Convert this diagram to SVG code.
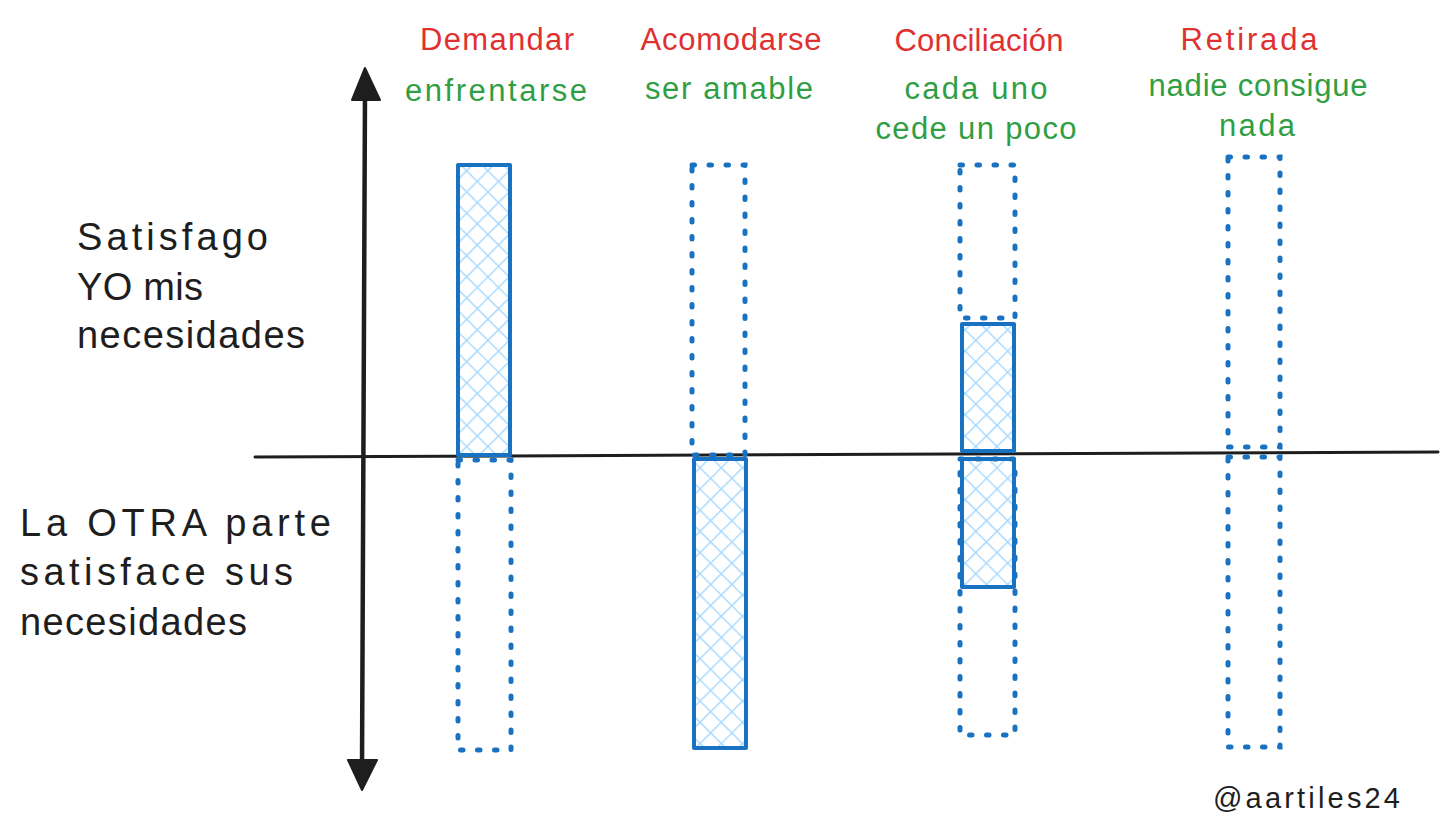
<svg xmlns="http://www.w3.org/2000/svg" width="1456" height="839" viewBox="0 0 1456 839">
  <defs>
    <pattern id="hatch" width="15" height="15" patternUnits="userSpaceOnUse" patternTransform="rotate(45)">
      <line x1="0" y1="0" x2="0" y2="15" stroke="#a5d8ff" stroke-width="2.8"/>
      <line x1="0" y1="0" x2="15" y2="0" stroke="#a5d8ff" stroke-width="2.8"/>
    </pattern>
    <style>
      .solid { fill: url(#hatch); stroke: #1971c2; stroke-width: 4; stroke-linejoin: round; }
      .dot { fill: none; stroke: #1971c2; stroke-width: 5; stroke-dasharray: 2.5 14.5; stroke-linecap: round; }
      .axis { stroke: #1e1e1e; fill: none; stroke-linecap: round; }
      .red { fill: #e03131; font-family: "Liberation Sans", "DejaVu Sans", sans-serif; font-size: 31px; text-anchor: middle; }
      .green { fill: #2f9e44; font-family: "Liberation Sans", "DejaVu Sans", sans-serif; font-size: 31px; text-anchor: middle; }
      .side { fill: #1e1e1e; font-family: "Liberation Sans", "DejaVu Sans", sans-serif; font-size: 38px; }
      .sig { fill: #1e1e1e; font-family: "Liberation Sans", "DejaVu Sans", sans-serif; font-size: 29px; }
    </style>
  </defs>
  <rect width="1456" height="839" fill="#ffffff"/>

  <g id="connectors">
    <line class="axis" x1="255" y1="457" x2="1438" y2="452" stroke-width="3"/>
    <line class="axis" x1="365" y1="92" x2="362" y2="768" stroke-width="4.5"/>
    <polygon points="365,68 352,100 380,100" fill="#1e1e1e" stroke="#1e1e1e" stroke-width="2" stroke-linejoin="round"/>
    <polygon points="362,790 348,760 377,760" fill="#1e1e1e" stroke="#1e1e1e" stroke-width="2" stroke-linejoin="round"/>
  </g>

  <g id="label-yo">
    <text class="side" x="77" y="250" textLength="191">Satisfago</text>
    <text class="side" x="77" y="300" textLength="126">YO mis</text>
    <text class="side" x="77" y="348" textLength="228">necesidades</text>
  </g>
  <g id="label-otra">
    <text class="side" x="20" y="536" textLength="311">La OTRA parte</text>
    <text class="side" x="20" y="585" textLength="273">satisface sus</text>
    <text class="side" x="20" y="635" textLength="227">necesidades</text>
  </g>

  <g id="demandar">
    <text class="red" x="497" y="50" textLength="154">Demandar</text>
    <text class="green" x="496" y="101" textLength="182">enfrentarse</text>
    <rect class="dot" x="458" y="460" width="53" height="290"/>
    <rect class="solid" x="458" y="165" width="52" height="290"/>
  </g>

  <g id="acomodarse">
    <text class="red" x="731" y="50" textLength="181">Acomodarse</text>
    <text class="green" x="729" y="99" textLength="168">ser amable</text>
    <rect class="dot" x="692" y="165" width="53" height="290"/>
    <rect class="solid" x="694" y="459" width="52" height="289"/>
  </g>

  <g id="conciliacion">
    <text class="red" x="979" y="51" textLength="169">Conciliación</text>
    <text class="green" x="976" y="99" textLength="143">cada uno</text>
    <text class="green" x="976" y="139" textLength="201">cede un poco</text>
    <rect class="dot" x="960" y="165" width="55" height="153"/>
    <rect class="dot" x="960" y="459" width="55" height="276"/>
    <rect x="962" y="324" width="52" height="127" class="solid"/>
    <rect x="962" y="459" width="52" height="128" class="solid"/>
  </g>

  <g id="retirada">
    <text class="red" x="1249" y="50" textLength="137">Retirada</text>
    <text class="green" x="1258" y="96" textLength="219">nadie consigue</text>
    <text class="green" x="1257" y="136" textLength="76">nada</text>
    <rect class="dot" x="1228" y="157" width="52" height="290"/>
    <rect class="dot" x="1228" y="457" width="52" height="290"/>
  </g>

  <g id="signature">
    <text class="sig" x="1213" y="808" textLength="187">@aartiles24</text>
  </g>
</svg>
